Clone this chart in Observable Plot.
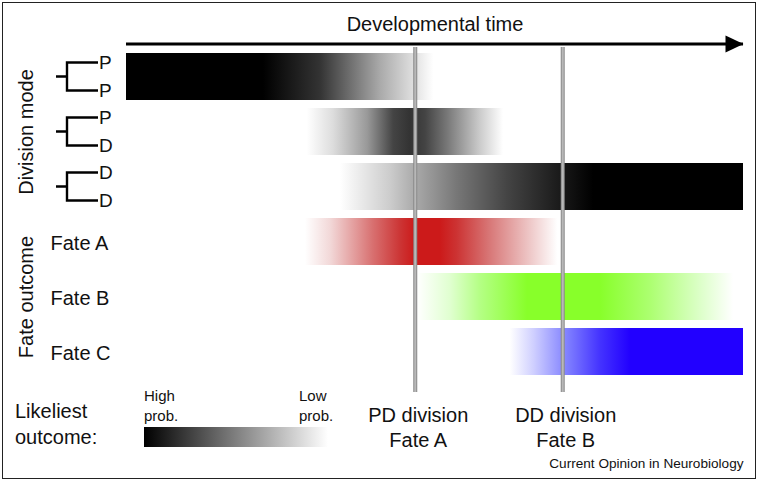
<!DOCTYPE html>
<html><head><meta charset="utf-8">
<script src="https://cdn.jsdelivr.net/npm/d3@7"></script>
<script src="https://cdn.jsdelivr.net/npm/@observablehq/plot@0.6"></script>
<style>
html,body{margin:0;padding:0;background:#fff;}
#chart svg{display:block;outline:1.5px solid #222;outline-offset:-3px;}
</style></head><body><div id="chart"></div>
<script>
// ---- data ----
const rows = ["PP", "PD", "DD", "Fate A", "Fate B", "Fate C"];
const daughters = [["P", "P"], ["P", "D"], ["D", "D"]];
const fateRows = ["Fate A", "Fate B", "Fate C"];
const timeDomain = [0, 100];
const barStart = [0, 29.3, 34.7, 29.0, 47.2, 62.2];
const barEnd = [49.8, 61.1, 100, 69.9, 98.4, 100];
const stopTimes = [
  [0, 22.2, 31.4, 41.2, 49.8],
  [29.3, 33.5, 39.1, 43.3, 46.0, 48.5, 52.0, 57.4, 61.1],
  [34.7, 37.4, 42.8, 46.8, 53.6, 61.8, 70.3, 75.7, 100],
  [29.0, 33.1, 40.0, 44.4, 46.8, 50.9, 53.6, 59.0, 65.5, 69.9],
  [47.2, 52.5, 57.4, 65.0, 76.8, 84.9, 93.0, 98.4],
  [62.2, 66.0, 71.5, 76.8, 81.7, 100]
];
const stopColors = [
  ["#000", "#000", "#333", "#aaa", "#fff"],
  ["#fff", "#ddd", "#999", "#444", "#333", "#444", "#777", "#ccc", "#fff"],
  ["#fff", "#eee", "#ccc", "#aaa", "#777", "#444", "#1a1a1a", "#000", "#000"],
  ["#fff", "#f2d8d8", "#d87070", "#cc3535", "#cc1a1a", "#cc1a1a", "#cc3333", "#d87878", "#eec8c8", "#fff"],
  ["#fff", "#e0ffd0", "#b4ff84", "#88ff2a", "#88ff2a", "#acff70", "#dcffc8", "#fff"],
  ["#fff", "#d0d0ff", "#8080ff", "#4433ff", "#2200ff", "#2200ff"]
];
const eventTimes = [46.8, 70.7];
const eventLabels = ["PD division\nFate A", "DD division\nFate B"];
const axisTitle = "Developmental time";
const groupLabels = ["Division mode", "Fate outcome"];
const groupRows = ["PD", "Fate B"];
const legendTitle = ["Likeliest", "outcome:"];
const legendEnds = [["High", "prob."], ["Low", "prob."]];
const legendColors = ["#000", "#fff"];
const credit = "Current Opinion in Neurobiology";

// ---- derived tables ----
const bars = rows.map((row, i) => ({
  row, start: barStart[i], end: barEnd[i], id: "grad" + i,
  stops: stopTimes[i].map((t, j) => ({t, c: stopColors[i][j]}))
}));
const events = eventTimes.map((t, i) => ({t, label: eventLabels[i]}));
const arrowData = [{row: rows[0], from: timeDomain[0], to: timeDomain[1]}];

const FONT = "'Liberation Sans', Arial, Helvetica, sans-serif";
const INK = "#111";

function gradientDefs(index, scales) {
  const x = scales.x;
  const defs = d3.create("svg:defs");
  bars.forEach(b => {
    const g = defs.append("linearGradient").attr("id", b.id)
      .attr("gradientUnits", "userSpaceOnUse")
      .attr("x1", x(b.start)).attr("x2", x(b.end)).attr("y1", 0).attr("y2", 0);
    b.stops.forEach(s => g.append("stop")
      .attr("offset", (s.t - b.start) / (b.end - b.start))
      .attr("stop-color", s.c));
  });
  const lg = defs.append("linearGradient").attr("id", "legendGrad");
  legendColors.forEach((c, i) => lg.append("stop").attr("offset", i / (legendColors.length - 1)).attr("stop-color", c));
  return defs.node();
}

function treeGlyphs(index, scales, values, dims) {
  const y = scales.y;
  const ml = dims.marginLeft;
  const bw = y.bandwidth();
  const g = d3.create("svg:g").attr("text-anchor", "start");
  daughters.forEach((pair, i) => {
    const cy = y(rows[i]) + bw / 2;
    const off = 14;
    const x0 = ml - 70, xv = ml - 59, xe = ml - 28;
    g.append("path")
      .attr("d", `M${x0},${cy}H${xv}M${xe},${cy - off}H${xv}V${cy + off}H${xe}`)
      .attr("fill", "none").attr("stroke", "#000").attr("stroke-width", 2.4);
    pair.forEach((L, j) => g.append("text")
      .attr("x", xe + 1).attr("y", cy + (j ? off : -off)).attr("dy", "0.36em")
      .attr("font-size", 19).attr("font-family", FONT).attr("fill", INK).text(L));
  });
  return g.node();
}

function legendBlock(index, scales, values, dims) {
  const g = d3.create("svg:g").attr("font-family", FONT).attr("fill", INK).attr("text-anchor", "start");
  legendTitle.forEach((t, i) => g.append("text").attr("x", 15).attr("y", 418 + i * 26).attr("font-size", 20).text(t));
  legendEnds.forEach((pair, k) => pair.forEach((t, i) =>
    g.append("text").attr("x", k ? 299 : 144).attr("y", 401 + i * 20).attr("font-size", 15).text(t)));
  g.append("rect").attr("x", 144).attr("y", 427).attr("width", 184).attr("height", 20).attr("fill", "url(#legendGrad)");
  return g.node();
}

const headSymbol = {
  draw(ctx) { ctx.moveTo(0, 0); ctx.lineTo(-18, -8.5); ctx.lineTo(-18, 8.5); ctx.closePath(); }
};

const chart = Plot.plot({
  width: 758, height: 481,
  marginLeft: 126, marginRight: 15, marginTop: 47, marginBottom: 99,
  style: {fontFamily: FONT, background: "#fff", color: INK},
  x: {domain: timeDomain, axis: null},
  y: {domain: rows, axis: null, paddingInner: 0.14, paddingOuter: 0.07},
  color: {type: "identity"},
  marks: [
    gradientDefs,
    Plot.barX(bars, {x1: "start", x2: "end", y: "row", fill: d => `url(#${d.id})`}),
    Plot.ruleX(events, {x: "t", stroke: "#8a8a8a", strokeWidth: 4, insetBottom: -10}),
    Plot.ruleX(events, {x: "t", stroke: "#b8b8b8", strokeWidth: 2, insetBottom: -10}),
    Plot.ruleY(arrowData, {y: "row", x1: "from", x2: "to", dy: -33, stroke: "#000", strokeWidth: 3.2}),
    Plot.dot(arrowData, {x: "to", y: "row", dy: -33, symbol: headSymbol, fill: "#000", stroke: "none"}),
    Plot.text([axisTitle], {x: () => (timeDomain[0] + timeDomain[1]) / 2, text: d => d, frameAnchor: "top", lineAnchor: "middle", dy: -22.7, fontSize: 20, fill: INK}),
    Plot.text(events, {x: "t", text: "label", frameAnchor: "bottom", lineAnchor: "top", dy: 22, dx: 3, fontSize: 20, lineHeight: 1.25, fill: INK}),
    Plot.text(fateRows, {y: d => d, text: d => d, frameAnchor: "left", textAnchor: "start", dx: -76, dy: 2, fontSize: 20, fill: INK}),
    Plot.text(groupLabels, {y: (d, i) => groupRows[i], text: d => d, frameAnchor: "left", textAnchor: "middle", rotate: -90, dx: -99.5, fontSize: 20, fill: INK}),
    treeGlyphs,
    legendBlock,
    Plot.text([credit], {text: d => d, frameAnchor: "bottom-right", textAnchor: "end", lineAnchor: "middle", dy: 81.6, fontSize: 13.6, fill: INK})
  ]
});
document.getElementById("chart").appendChild(chart);
</script></body></html>
